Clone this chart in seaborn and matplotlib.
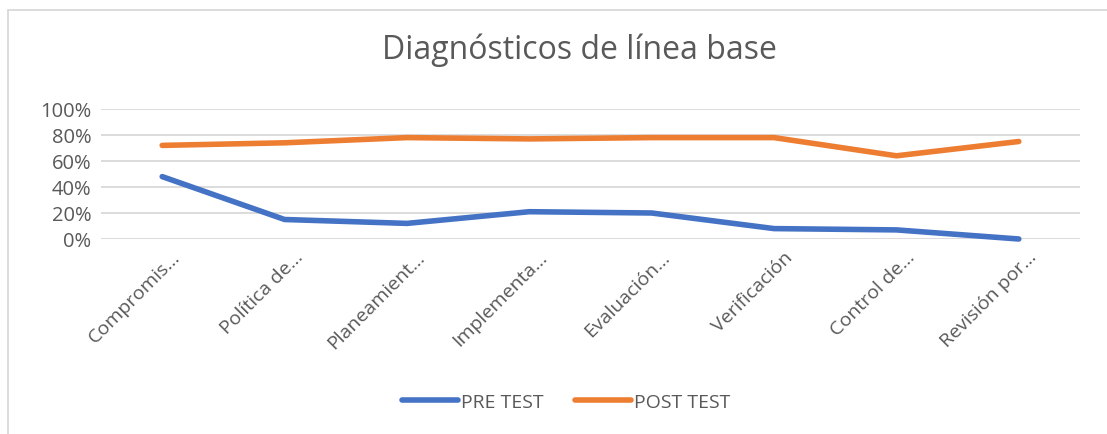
import pandas as pd
import seaborn as sns
import matplotlib.pyplot as plt
import matplotlib.transforms as mtransforms
from matplotlib.ticker import PercentFormatter
from matplotlib.lines import Line2D

# Data
categorias = ["Compromis…", "Política de…", "Planeamient…", "Implementa…",
              "Evaluación…", "Verificación", "Control de…", "Revisión por…"]
pre_test = [0.48, 0.15, 0.12, 0.21, 0.20, 0.08, 0.07, 0.00]
post_test = [0.72, 0.74, 0.78, 0.77, 0.78, 0.78, 0.64, 0.75]
series = ["PRE TEST", "POST TEST"]
colores = ["#4472C4", "#ED7D31"]

df = pd.DataFrame({
    "categoria": categorias * 2,
    "valor": pre_test + post_test,
    "serie": [series[0]] * len(categorias) + [series[1]] * len(categorias),
})

sns.set_style("white")
plt.rcParams['font.family'] = ['Open Sans', 'DejaVu Sans']
gris = "#595959"

fig = plt.figure(figsize=(11.07, 4.35), dpi=100)
ax = fig.add_axes([101 / 1107, 1 - 240 / 435, 979 / 1107, 130 / 435])

sns.lineplot(data=df, x="categoria", y="valor", hue="serie", palette=colores,
             linewidth=4.0, ax=ax, legend=False, sort=False)
for ln in ax.get_lines():
    ln.set_solid_capstyle("round")
    ln.set_solid_joinstyle("round")
    ln.set_clip_on(False)

ax.set_xlim(-0.5, len(categorias) - 0.5)
ax.set_ylim(0, 1)
ax.set_yticks([0, 0.2, 0.4, 0.6, 0.8, 1.0])
ax.yaxis.set_major_formatter(PercentFormatter(1.0, decimals=0))
ax.grid(axis="y", color="#D9D9D9", linewidth=1.3)
ax.set_axisbelow(True)
for s in ax.spines.values():
    s.set_visible(False)
ax.set_xlabel("")
ax.set_ylabel("")
ax.tick_params(axis="y", length=0, labelcolor=gris, labelsize=14.5, pad=7)
ax.tick_params(axis="x", length=0, labelcolor=gris, labelsize=14, pad=6)
ax.set_xticks(range(len(categorias)))
ax.set_xticklabels(categorias, rotation=45, ha="right", rotation_mode="anchor")
# nudge rotated labels so they end just right of the tick, as in Excel
desplazar = mtransforms.ScaledTranslation(0.09, 0, fig.dpi_scale_trans)
for lbl in ax.get_xticklabels():
    lbl.set_transform(lbl.get_transform() + desplazar)

fig.text(0.523, 1 - 50 / 435, "Diagnósticos de línea base", ha="center", va="center",
         fontsize=23, color=gris)

handles = [Line2D([], [], color=c, linewidth=4.0, solid_capstyle="round") for c in colores]
fig.legend(handles, series, loc="center", bbox_to_anchor=(566 / 1107, 1 - 403 / 435),
           ncol=2, frameon=False, fontsize=14, labelcolor=gris, handlelength=2.9,
           handletextpad=0.15, columnspacing=1.6)

# chart area border
fig.add_artist(Line2D([8 / 1107, 8 / 1107], [0, 1 - 11 / 435], color="#D9D9D9",
                      linewidth=1.3, transform=fig.transFigure))
fig.add_artist(Line2D([8 / 1107, 1], [1 - 11 / 435, 1 - 11 / 435], color="#D9D9D9",
                      linewidth=1.3, transform=fig.transFigure))

fig.savefig("out.png", dpi=100)
